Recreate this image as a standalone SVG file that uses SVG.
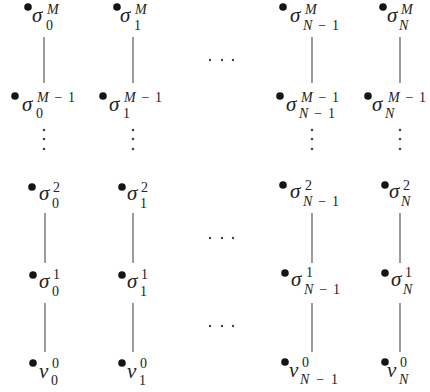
<svg xmlns="http://www.w3.org/2000/svg" width="430" height="392" viewBox="0 0 430 392">
<style>
.dot{fill:#151515}
.ed{fill:#444}
.ln{stroke:#666;stroke-width:1.3;fill:none}
text{font-family:"Liberation Serif","Times New Roman",serif;fill:#222}
.b{font-size:21px;font-style:italic}
.s{font-size:14px}
.i{font-style:italic}
</style>
<rect width="430" height="392" fill="#fff"/>
<g id="connectors">
<line class="ln" x1="44" y1="37" x2="44" y2="83"/>
<line class="ln" x1="133" y1="37" x2="133" y2="83"/>
<line class="ln" x1="312" y1="37" x2="312" y2="83"/>
<line class="ln" x1="400" y1="37" x2="400" y2="83"/>
<line class="ln" x1="45" y1="213" x2="45" y2="263"/>
<line class="ln" x1="133" y1="213" x2="133" y2="263"/>
<line class="ln" x1="312" y1="213" x2="312" y2="263"/>
<line class="ln" x1="400" y1="213" x2="400" y2="263"/>
<line class="ln" x1="45" y1="303" x2="45" y2="352"/>
<line class="ln" x1="133" y1="303" x2="133" y2="352"/>
<line class="ln" x1="312" y1="303" x2="312" y2="352"/>
<line class="ln" x1="400" y1="303" x2="400" y2="352"/>
</g>
<g id="ellipses">
<circle class="ed" cx="210" cy="60" r="1.2"/><circle class="ed" cx="222" cy="60" r="1.2"/><circle class="ed" cx="233" cy="60" r="1.2"/>
<circle class="ed" cx="210" cy="238" r="1.2"/><circle class="ed" cx="222" cy="238" r="1.2"/><circle class="ed" cx="233" cy="238" r="1.2"/>
<circle class="ed" cx="210" cy="326" r="1.2"/><circle class="ed" cx="222" cy="326" r="1.2"/><circle class="ed" cx="233" cy="326" r="1.2"/>
<circle class="ed" cx="44" cy="130" r="1.3"/><circle class="ed" cx="44" cy="139" r="1.3"/><circle class="ed" cx="44" cy="149" r="1.3"/>
<circle class="ed" cx="133" cy="130" r="1.3"/><circle class="ed" cx="133" cy="139" r="1.3"/><circle class="ed" cx="133" cy="149" r="1.3"/>
<circle class="ed" cx="312" cy="130" r="1.3"/><circle class="ed" cx="312" cy="139" r="1.3"/><circle class="ed" cx="312" cy="149" r="1.3"/>
<circle class="ed" cx="400" cy="130" r="1.3"/><circle class="ed" cx="400" cy="139" r="1.3"/><circle class="ed" cx="400" cy="149" r="1.3"/>
</g>
<!-- top row -->
<g id="n-0-M"><circle class="dot" cx="28" cy="7" r="3.8"/><text class="b" x="32" y="22">σ</text><text class="s i" x="47" y="14">M</text><text class="s" x="46" y="30">0</text></g>
<g id="n-1-M"><circle class="dot" cx="117" cy="7" r="3.8"/><text class="b" x="120" y="22">σ</text><text class="s i" x="135" y="14">M</text><text class="s" x="134" y="30">1</text></g>
<g id="n-N1-M"><circle class="dot" cx="283" cy="7" r="3.8"/><text class="b" x="290" y="22">σ</text><text class="s i" x="305" y="14">M</text><text class="s" x="303" y="30" textLength="36" lengthAdjust="spacing"><tspan class="i">N</tspan>−1</text></g>
<g id="n-N-M"><circle class="dot" cx="383" cy="7" r="3.8"/><text class="b" x="387" y="22">σ</text><text class="s i" x="401" y="14">M</text><text class="s i" x="399" y="30">N</text></g>
<!-- M-1 row -->
<g id="n-0-M1"><circle class="dot" cx="15" cy="96" r="3.8"/><text class="b" x="22" y="111">σ</text><text class="s" x="37" y="102" textLength="38" lengthAdjust="spacing"><tspan class="i">M</tspan>−1</text><text class="s" x="36" y="118">0</text></g>
<g id="n-1-M1"><circle class="dot" cx="103" cy="96" r="3.8"/><text class="b" x="109" y="111">σ</text><text class="s" x="124" y="102" textLength="38" lengthAdjust="spacing"><tspan class="i">M</tspan>−1</text><text class="s" x="123" y="118">1</text></g>
<g id="n-N1-M1"><circle class="dot" cx="280" cy="96" r="3.8"/><text class="b" x="286" y="111">σ</text><text class="s" x="301" y="102" textLength="38" lengthAdjust="spacing"><tspan class="i">M</tspan>−1</text><text class="s" x="299" y="118" textLength="36" lengthAdjust="spacing"><tspan class="i">N</tspan>−1</text></g>
<g id="n-N-M1"><circle class="dot" cx="368" cy="96" r="3.8"/><text class="b" x="372" y="111">σ</text><text class="s" x="388" y="102" textLength="38" lengthAdjust="spacing"><tspan class="i">M</tspan>−1</text><text class="s i" x="385" y="118">N</text></g>
<!-- row 2 -->
<g id="n-0-2"><circle class="dot" cx="32" cy="187" r="3.8"/><text class="b" x="39" y="200">σ</text><text class="s" x="53" y="192">2</text><text class="s" x="52" y="208">0</text></g>
<g id="n-1-2"><circle class="dot" cx="122" cy="187" r="3.8"/><text class="b" x="127" y="200">σ</text><text class="s" x="141" y="192">2</text><text class="s" x="140" y="208">1</text></g>
<g id="n-N1-2"><circle class="dot" cx="283" cy="185" r="3.8"/><text class="b" x="290" y="198">σ</text><text class="s" x="305" y="190">2</text><text class="s" x="303" y="206" textLength="36" lengthAdjust="spacing"><tspan class="i">N</tspan>−1</text></g>
<g id="n-N-2"><circle class="dot" cx="385" cy="185" r="3.8"/><text class="b" x="389" y="198">σ</text><text class="s" x="403" y="190">2</text><text class="s i" x="401" y="206">N</text></g>
<!-- row 1 -->
<g id="n-0-1"><circle class="dot" cx="33" cy="275" r="3.8"/><text class="b" x="39" y="288">σ</text><text class="s" x="53" y="279">1</text><text class="s" x="52" y="296">0</text></g>
<g id="n-1-1"><circle class="dot" cx="122" cy="275" r="3.8"/><text class="b" x="127" y="288">σ</text><text class="s" x="141" y="279">1</text><text class="s" x="140" y="296">1</text></g>
<g id="n-N1-1"><circle class="dot" cx="285" cy="273" r="3.8"/><text class="b" x="291" y="286">σ</text><text class="s" x="306" y="277">1</text><text class="s" x="304" y="294" textLength="36" lengthAdjust="spacing"><tspan class="i">N</tspan>−1</text></g>
<g id="n-N-1"><circle class="dot" cx="385" cy="273" r="3.8"/><text class="b" x="391" y="286">σ</text><text class="s" x="405" y="277">1</text><text class="s i" x="403" y="294">N</text></g>
<!-- row 0 -->
<g id="n-0-0"><circle class="dot" cx="33" cy="363" r="3.8"/><text class="b" x="39" y="378">v</text><text class="s" x="52" y="368">0</text><text class="s" x="51" y="385">0</text></g>
<g id="n-1-0"><circle class="dot" cx="122" cy="363" r="3.8"/><text class="b" x="127" y="378">v</text><text class="s" x="140" y="368">0</text><text class="s" x="139" y="385">1</text></g>
<g id="n-N1-0"><circle class="dot" cx="285" cy="362" r="3.8"/><text class="b" x="289" y="377">v</text><text class="s" x="302" y="367">0</text><text class="s" x="300" y="384" textLength="38" lengthAdjust="spacing"><tspan class="i">N</tspan>−1</text></g>
<g id="n-N-0"><circle class="dot" cx="385" cy="362" r="3.8"/><text class="b" x="387" y="377">v</text><text class="s" x="400" y="367">0</text><text class="s i" x="399" y="384">N</text></g>
</svg>
